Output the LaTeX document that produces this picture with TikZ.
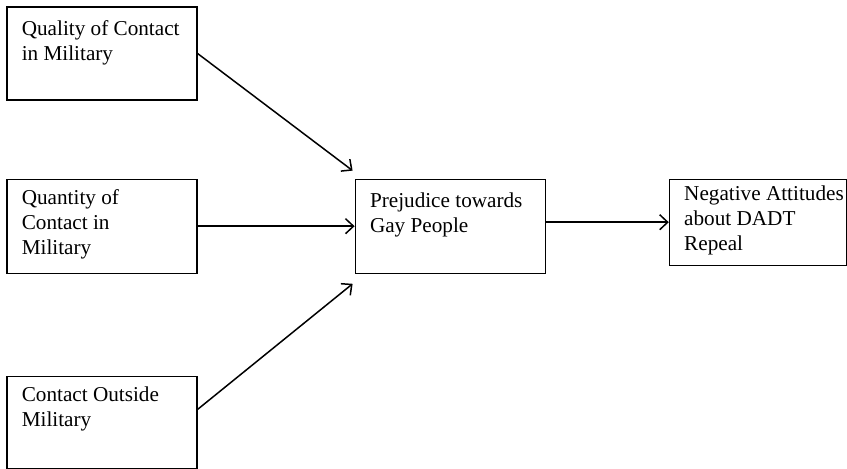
\documentclass[tikz,border=0pt]{standalone}
\usepackage{fontspec}
\setmainfont{Liberation Serif}
\usetikzlibrary{arrows.meta, positioning}

\begin{document}
\begin{tikzpicture}[
    x=0.5pt, y=-0.5pt,
    >={Straight Barb[length=4pt, width=7.5pt]},
    box/.style={draw, line width=0.6pt, minimum width=95pt, inner sep=0pt},
    txt/.style={anchor=north west, align=left, inner sep=0pt,
                font=\fontsize{10.6pt}{12.5pt}\selectfont},
    arr/.style={->, line width=0.75pt},
]
\useasboundingbox (0,0) rectangle (847,468);

% === Column 1: contact measures ===
\node[box, minimum height=46.5pt] (qual) at (102,53.5) {};
\node[box, minimum height=47pt, below=39pt of qual] (quant) {};
\node[box, minimum height=46pt, below=51pt of quant] (outside) {};

\node[txt] (qualtxt) at ([shift={(15,13.4)}]qual.north west) {Quality of Contact\\in Military};
\node[txt] (quanttxt) at ([shift={(15,10.4)}]quant.north west) {Quantity of\\Contact in\\Military};
\node[txt] (outsidetxt) at ([shift={(15,10.4)}]outside.north west) {Contact Outside\\Military};

% === Column 2: prejudice ===
\node[box, minimum height=47pt, right=78.5pt of quant] (prej) {};
\node[txt] (prejtxt) at ([shift={(15,13.4)}]prej.north west) {Prejudice towards\\Gay People};

% === Column 3: attitudes ===
\node[box, minimum width=88.5pt, minimum height=43pt, right=61.5pt of prej, yshift=2pt] (neg) {};
\node[txt] (negtxt) at ([shift={(15,6.4)}]neg.north west) {Negative Attitudes\\about DADT\\Repeal};

% === Paths ===
\draw[arr] (qual.east) -- ([shift={(-2,-8)}]prej.north west);
\draw[arr] (quant.east) -- (prej.west);
\draw[arr] ([yshift=6.5pt]outside.east) -- ([shift={(-2,10)}]prej.south west);
\draw[arr] (prej.east |- neg.west) -- (neg.west);

\end{tikzpicture}
\end{document}
